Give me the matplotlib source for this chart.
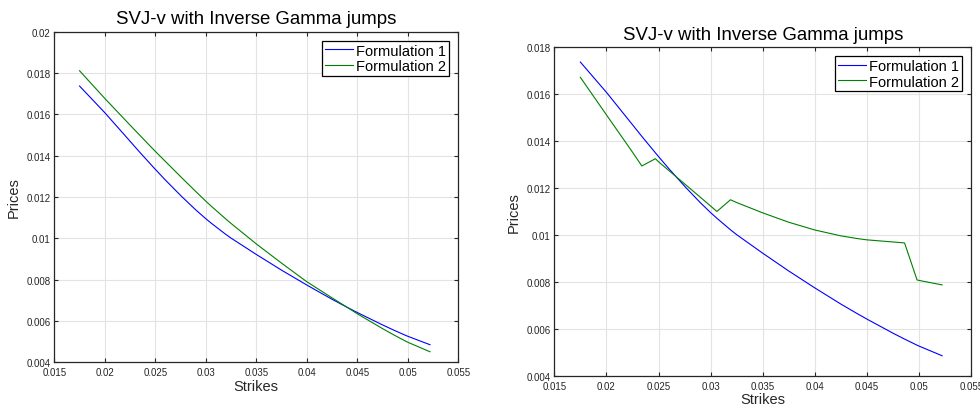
import matplotlib
matplotlib.use("Agg")
import matplotlib.pyplot as plt
from matplotlib.ticker import FuncFormatter

plt.rcParams['font.family'] = ['Liberation Sans', 'DejaVu Sans']

# strike grid shared by all curves
strikes = [0.0175, 0.0200, 0.0225, 0.0234, 0.0247, 0.0250, 0.0260, 0.0276,
           0.0290, 0.0300, 0.0306, 0.0319, 0.0325, 0.0350, 0.0375, 0.0400,
           0.0425, 0.0440, 0.0450, 0.0475, 0.0486, 0.0498, 0.0500, 0.0522]

# formulation 1 (same in both runs)
prices_f1 = [0.01737, 0.01608, 0.01470, 0.01420, 0.01350, 0.01334, 0.01282, 0.01203,
             0.01138, 0.01095, 0.01071, 0.01022, 0.01001, 0.00922, 0.00846, 0.00774,
             0.00705, 0.00666, 0.00641, 0.00581, 0.00556, 0.00530, 0.00526, 0.00485]

# formulation 2, first run
prices_f2_a = [0.01811, 0.01677, 0.01548, 0.01502, 0.01436, 0.01421, 0.01372, 0.01294,
               0.01227, 0.01180, 0.01153, 0.01097, 0.01072, 0.00973, 0.00880, 0.00790,
               0.00712, 0.00666, 0.00635, 0.00563, 0.00533, 0.00502, 0.00497, 0.00451]

# formulation 2, second run
prices_f2_b = [0.01672, 0.01512, 0.01353, 0.01294, 0.01325, 0.01312, 0.01274, 0.01214,
               0.01161, 0.01123, 0.01100, 0.01150, 0.01138, 0.01094, 0.01054, 0.01021,
               0.00996, 0.00985, 0.00979, 0.00970, 0.00966, 0.00808, 0.00806, 0.00787]

x_ticks = [0.015, 0.02, 0.025, 0.03, 0.035, 0.04, 0.045, 0.05, 0.055]
y_ticks_a = [0.004, 0.006, 0.008, 0.01, 0.012, 0.014, 0.016, 0.018, 0.02]
y_ticks_b = [0.004, 0.006, 0.008, 0.01, 0.012, 0.014, 0.016, 0.018]

DARK = '#262626'
fmt = FuncFormatter(lambda v, p: '%g' % round(v, 6))

fig = plt.figure(figsize=(9.8, 4.06), dpi=100)
ax1 = fig.add_axes([0.0554, 0.1052, 0.4122, 0.8143])
ax2 = fig.add_axes([0.5656, 0.0722, 0.4255, 0.8089])


def style(ax, f2, yticks):
    ax.plot(strikes, prices_f1, color=(0, 0, 1), lw=0.8, label='Formulation 1')
    ax.plot(strikes, f2, color=(0, 0.5, 0), lw=0.8, label='Formulation 2')
    ax.set_xlim(0.015, 0.055)
    ax.set_ylim(yticks[0], yticks[-1])
    ax.set_xticks(x_ticks)
    ax.set_yticks(yticks)
    ax.xaxis.set_major_formatter(fmt)
    ax.yaxis.set_major_formatter(fmt)
    ax.grid(True, color='#e3e3e3', lw=0.8)
    ax.set_axisbelow(True)
    ax.tick_params(direction='in', length=3, width=0.8, top=True, right=True,
                   labelsize=7, colors=DARK)
    ax.tick_params(axis='x', pad=3.5)
    ax.tick_params(axis='y', pad=2.5)
    for s in ax.spines.values():
        s.set_color(DARK)
        s.set_linewidth(0.9)
    ax.set_xlabel('Strikes', fontsize=10.5, color=DARK, labelpad=1)
    ax.set_ylabel('Prices', fontsize=10.5, color=DARK, labelpad=4)
    ax.set_title('SVJ-v with Inverse Gamma jumps', fontsize=13.4, color='black', pad=6)
    leg = ax.legend(loc='upper right', bbox_to_anchor=(0.978, 0.973), borderaxespad=0,
                    fontsize=10.5, fancybox=False, framealpha=1, edgecolor='black',
                    labelspacing=0.1, borderpad=0.2, handlelength=1.9,
                    handletextpad=0.25)
    leg.get_frame().set_linewidth(0.9)


style(ax1, prices_f2_a, y_ticks_a)
style(ax2, prices_f2_b, y_ticks_b)

fig.savefig('out.png', dpi=100)
